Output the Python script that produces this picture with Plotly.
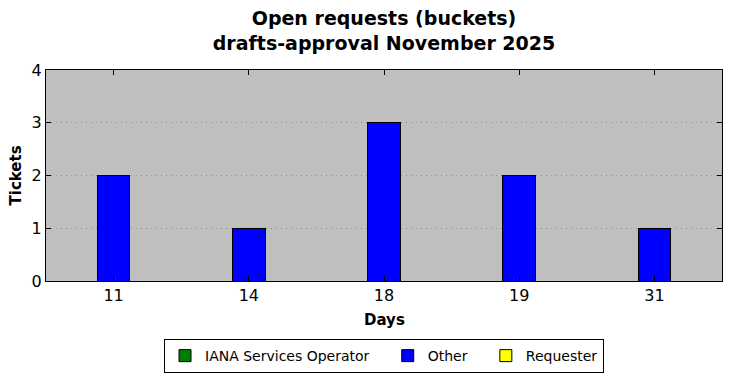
import plotly.graph_objects as go

days = ["11", "14", "18", "19", "31"]
iana = [0, 0, 0, 0, 0]
other = [2, 1, 3, 2, 1]
requester = [0, 0, 0, 0, 0]

font = "DejaVu Sans"
pad = "\u00a0\u00a0\u00a0"
fig = go.Figure()
for name, label, vals, col in [("IANA Services Operator", "IANA Services Operator" + pad, iana, "green"),
                               ("Other", "Other" + pad, other, "blue"),
                               ("Requester", "Requester", requester, "yellow")]:
    fig.add_trace(go.Bar(x=days, y=vals, name=label, width=0.24,
                         marker=dict(color=col, line=dict(color="black", width=1))))

fig.update_layout(
    width=732, height=378, barmode="stack",
    margin=dict(l=46, r=10, t=70, b=97, autoexpand=False),
    paper_bgcolor="white", plot_bgcolor="#bfbfbf",
    font=dict(family=font, color="black"),
    title=dict(text="<b>Open requests (buckets)<br>drafts-approval November 2025</b>",
               xref="paper", x=0.5, xanchor="center", y=0.934, yanchor="middle",
               font=dict(size=19, family=font)),
    showlegend=True,
    legend=dict(orientation="h", x=0.5, xanchor="center", y=-0.275, yanchor="top",
                bordercolor="black", borderwidth=1, bgcolor="white",
                font=dict(size=14, family=font), itemwidth=30,
                traceorder="normal"),
    annotations=[
        dict(text="<b>Tickets</b>", xref="paper", yref="paper", x=-0.0444, y=0.5,
             xanchor="center", yanchor="middle", textangle=-90, showarrow=False,
             font=dict(size=15, family=font)),
        dict(text="<b>Days</b>", xref="paper", yref="paper", x=0.5, y=-0.185,
             xanchor="center", yanchor="middle", showarrow=False,
             font=dict(size=15, family=font)),
    ],
)
fig.update_xaxes(type="category", range=[-0.5, 4.5], showline=True, linecolor="black",
                 linewidth=1, mirror="ticks", ticks="inside", ticklen=5, tickcolor="black",
                 tickfont=dict(size=16), showgrid=False, automargin=False)
fig.update_yaxes(range=[0, 4], dtick=1, showline=True, linecolor="black", linewidth=1,
                 mirror="ticks", ticks="inside", ticklen=5, tickcolor="black",
                 tickfont=dict(size=16), showgrid=True, gridcolor="#8c8c8c",
                 griddash="1px,4px", gridwidth=1, zeroline=False, automargin=False)
fig.write_html("out.html", config={"displayModeBar": False},
               post_script="document.body.style.margin='0';")
